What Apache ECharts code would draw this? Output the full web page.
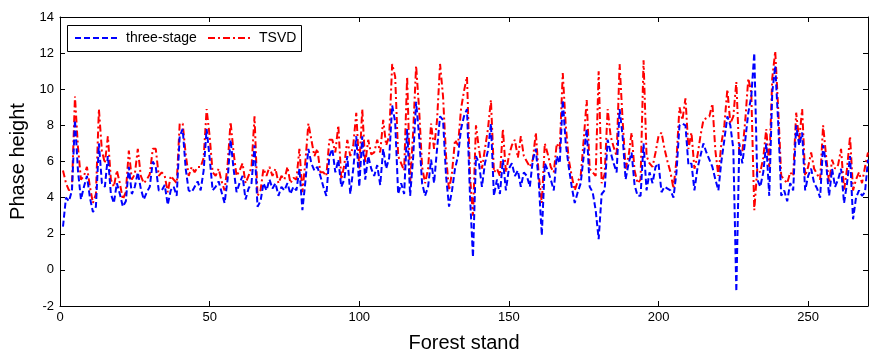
<!DOCTYPE html>
<html>
<head>
<meta charset="utf-8">
<script src="https://cdn.jsdelivr.net/npm/echarts@6/dist/echarts.min.js"></script>
<style>html,body{margin:0;padding:0;background:#fff}#c{width:869px;height:350px}</style>
</head>
<body>
<div id="c"></div>
<script>
const xTicks = [0, 50, 100, 150, 200, 250];
const yTicks = [-2, 0, 2, 4, 6, 8, 10, 12, 14];
const seriesNames = ['three-stage', 'TSVD'];
const threeStage = [
2.4,4.0,3.8,4.4,8.3,5.5,3.9,4.6,5.2,4.0,
3.2,3.5,7.0,4.8,4.6,6.3,4.2,3.7,4.8,4.2,
3.5,3.8,5.7,4.2,4.6,5.4,4.5,3.9,4.3,4.6,
6.0,5.7,4.4,4.4,4.7,3.6,4.4,4.6,4.1,7.4,
7.8,5.6,4.4,4.3,4.6,4.9,4.4,5.5,7.8,6.2,
4.4,4.6,4.9,4.3,3.7,5.0,7.2,5.6,4.3,4.8,
5.2,3.9,4.5,4.8,6.9,3.5,3.8,4.8,4.4,5.0,
4.5,4.8,4.1,4.6,4.4,4.8,4.2,4.6,4.4,5.6,
3.3,4.9,6.7,5.9,5.5,5.7,5.2,4.6,4.1,6.3,
6.7,5.4,6.1,4.6,5.0,6.3,4.2,5.6,7.4,4.6,
7.4,5.0,6.3,5.6,5.2,5.8,4.7,6.7,5.6,6.2,
9.1,8.2,4.2,4.8,4.2,7.8,4.1,6.2,9.3,7.4,
4.8,4.1,4.6,6.1,4.8,6.7,8.5,8.3,5.2,3.5,
4.4,5.6,6.3,7.8,8.5,8.9,4.1,0.7,6.3,5.9,
4.6,5.9,6.6,8.1,4.1,5.0,4.2,6.1,4.4,5.6,
5.9,5.2,5.5,4.6,5.4,5.2,4.6,6.1,6.7,4.8,
1.9,5.9,5.5,5.0,4.4,6.3,5.9,9.4,7.0,5.7,
4.6,3.7,4.3,4.8,6.3,7.8,4.6,4.3,3.3,1.7,
4.2,4.4,7.2,6.5,5.9,5.4,8.9,7.4,5.0,5.9,
6.5,4.7,4.1,4.1,7.0,4.4,5.4,4.8,5.7,5.9,
4.3,4.6,4.5,4.4,4.0,5.4,8.0,8.1,8.0,5.8,
5.9,4.4,5.6,6.3,7.0,6.5,6.1,5.7,5.0,4.4,
6.0,7.2,8.5,8.0,6.7,-1.2,7.0,5.9,7.2,8.7,
9.6,12.0,5.0,4.6,5.4,7.0,4.1,9.8,11.3,8.1,
4.1,4.4,3.8,4.8,4.4,8.0,6.9,7.6,4.4,5.2,
5.6,4.8,4.5,4.0,6.9,5.9,4.1,5.6,4.6,5.0,
5.6,3.7,4.8,6.3,2.8,4.0,4.4,4.1,4.3,6.1
];
const tsvd = [
5.5,4.8,4.4,4.6,9.6,6.8,5.0,5.2,5.7,4.6,
3.7,4.2,8.9,6.6,5.9,7.4,5.0,4.6,5.5,4.8,
3.9,4.3,6.6,5.0,5.3,6.7,5.2,4.8,5.0,5.3,
6.7,6.7,5.2,5.4,5.2,4.3,5.2,5.0,4.8,8.1,
8.1,6.4,5.2,5.7,5.4,5.7,5.7,6.2,8.9,7.4,
5.4,5.2,5.6,4.9,4.4,5.8,8.2,6.5,5.2,5.5,
5.9,4.8,5.2,5.7,8.5,4.1,4.4,5.6,5.2,5.7,
5.2,5.6,4.8,5.2,5.0,5.7,4.8,5.1,5.0,6.7,
4.3,6.0,8.1,7.2,6.3,6.7,5.4,5.4,5.2,7.2,
7.2,6.5,8.0,5.0,5.8,7.2,6.3,6.9,8.7,5.6,
8.9,5.9,7.2,6.4,6.5,7.2,6.5,8.3,6.9,7.4,
11.4,10.7,6.3,5.9,5.5,10.7,4.8,7.6,11.3,8.9,
5.7,4.8,5.6,8.1,6.7,8.3,11.4,9.6,6.3,4.4,
5.4,7.2,6.9,8.9,9.9,10.7,5.2,3.0,8.0,6.7,
5.6,6.7,7.8,9.4,5.4,5.6,5.2,7.8,5.4,6.3,
6.9,7.2,6.2,7.4,6.3,6.0,5.7,6.1,7.6,5.2,
3.7,7.0,6.4,5.7,5.4,7.0,6.7,10.9,8.0,6.1,
5.2,4.4,4.9,5.2,7.2,9.4,5.6,5.4,5.2,11.0,
4.8,5.3,8.9,7.4,6.8,6.3,11.4,8.3,5.6,6.3,
7.6,5.5,4.8,5.0,11.6,6.3,5.9,5.7,6.5,7.4,
7.6,6.7,6.0,5.4,4.5,6.1,9.0,8.3,9.5,6.7,
7.6,5.6,6.3,7.4,8.3,8.4,8.5,9.2,6.6,5.2,
7.0,8.0,10.0,8.1,8.5,10.4,6.3,6.5,8.3,10.6,
9.8,3.3,5.6,5.4,6.2,7.8,5.7,10.6,12.1,8.9,
5.2,5.0,4.8,5.4,5.2,8.7,7.2,8.9,5.2,5.7,
6.5,5.6,5.3,5.0,8.0,6.3,4.8,6.1,5.6,5.8,
6.7,4.4,5.6,7.4,4.4,5.0,5.4,4.8,5.7,6.5
];

const chart = echarts.init(document.getElementById('c'), null, {renderer: 'canvas'});
const font = 'Liberation Sans, Arial, sans-serif';
const blue = '#0000ff', red = '#ff0000';
const blueDash = [6, 3], redDash = [7, 3, 2, 3];
const axisCommon = {
  axisLine: {show: true, onZero: false, lineStyle: {color: '#000', width: 1}},
  splitLine: {show: false}
};
const xTickCfg = {show: true, inside: true, length: 5, lineStyle: {color: '#000'}, customValues: xTicks};
const yTickCfg = {show: true, inside: true, length: 5, lineStyle: {color: '#000'}, customValues: yTicks};
chart.setOption({
  animation: false,
  backgroundColor: '#fff',
  grid: {left: 60, right: 1, top: 17, bottom: 44, containLabel: false, outerBoundsMode: 'none'},
  xAxis: [
    Object.assign({
      type: 'value', position: 'bottom', min: 0, max: 270,
      name: 'Forest stand', nameLocation: 'middle', nameGap: 27,
      nameTextStyle: {fontFamily: font, fontSize: 20, color: '#000'},
      axisTick: xTickCfg,
      axisLabel: {fontFamily: font, fontSize: 13, color: '#000', margin: 5, customValues: xTicks}
    }, axisCommon),
    Object.assign({
      type: 'value', position: 'top', min: 0, max: 270,
      axisTick: xTickCfg,
      axisLabel: {show: false}
    }, axisCommon)
  ],
  yAxis: [
    Object.assign({
      type: 'value', position: 'left', min: -2, max: 14, interval: 2,
      name: 'Phase height', nameLocation: 'middle', nameGap: 30, nameRotate: 90,
      nameTextStyle: {fontFamily: font, fontSize: 20, color: '#000'},
      axisTick: yTickCfg,
      axisLabel: {fontFamily: font, fontSize: 13, color: '#000', margin: 6, customValues: yTicks}
    }, axisCommon),
    Object.assign({
      type: 'value', position: 'right', min: -2, max: 14, interval: 2,
      axisTick: yTickCfg,
      axisLabel: {show: false}
    }, axisCommon)
  ],
  graphic: [
    {type: 'rect', shape: {x: 67.5, y: 25.5, width: 234, height: 26},
     style: {fill: '#fff', stroke: '#000', lineWidth: 1}, z: 100},
    {type: 'line', shape: {x1: 75, y1: 38, x2: 118, y2: 38},
     style: {stroke: blue, lineWidth: 2, lineDash: blueDash}, z: 101},
    {type: 'text', x: 126, y: 38,
     style: {text: seriesNames[0], font: '14px ' + font, fill: '#000', textVerticalAlign: 'middle', verticalAlign: 'middle'}, z: 101},
    {type: 'line', shape: {x1: 208, y1: 38, x2: 252, y2: 38},
     style: {stroke: red, lineWidth: 2, lineDash: redDash}, z: 101},
    {type: 'text', x: 259, y: 38,
     style: {text: seriesNames[1], font: '14px ' + font, fill: '#000', textVerticalAlign: 'middle', verticalAlign: 'middle'}, z: 101}
  ],
  series: [
    {
      name: seriesNames[0], type: 'line', xAxisIndex: 0, yAxisIndex: 0,
      data: threeStage.map((v, i) => [i + 1, v]),
      symbol: 'none', showSymbol: false,
      lineStyle: {color: blue, width: 2, type: blueDash},
      z: 3
    },
    {
      name: seriesNames[1], type: 'line', xAxisIndex: 0, yAxisIndex: 0,
      data: tsvd.map((v, i) => [i + 1, v]),
      symbol: 'none', showSymbol: false,
      lineStyle: {color: red, width: 2, type: redDash},
      z: 2
    }
  ]
});
</script>
</body>
</html>
